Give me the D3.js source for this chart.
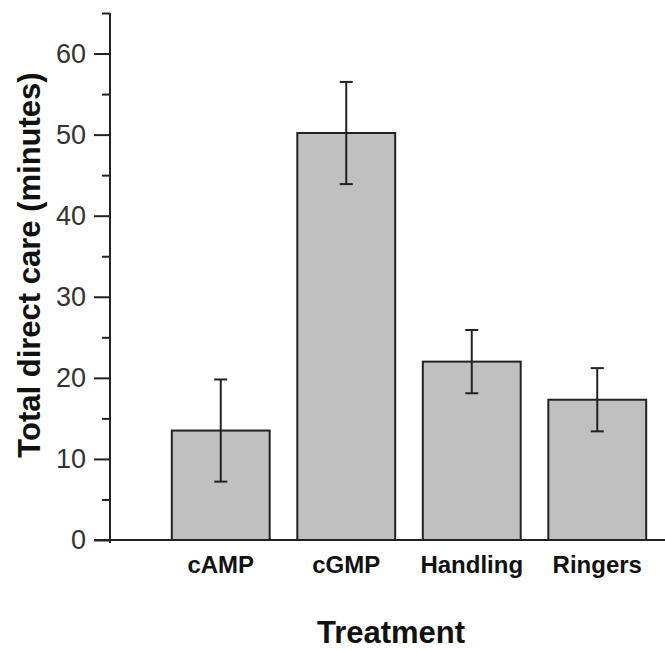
<!DOCTYPE html>
<html>
<head>
<meta charset="utf-8">
<script src="https://cdn.jsdelivr.net/npm/d3@7"></script>
<style>
  html, body { margin: 0; padding: 0; background: #fff; }
  svg { display: block; font-family: "Liberation Sans", Arial, sans-serif; }
  .axis path, .axis line { stroke: #222; stroke-width: 2; }
  .ylab text { font-size: 27px; fill: #333; }
  .xlab text { font-size: 24px; font-weight: bold; fill: #111; }
</style>
</head>
<body>
<svg id="chart"></svg>
<script>
// data
const categories = ['cAMP', 'cGMP', 'Handling', 'Ringers'];
const means = [13.5, 50.2, 22.0, 17.3];
const errors = [6.3, 6.3, 3.9, 3.9];
const majorTicks = [0, 10, 20, 30, 40, 50, 60];
const minorTicks = [5, 15, 25, 35, 45, 55, 65];

const W = 665, H = 650;
const svg = d3.select('#chart').attr('width', W).attr('height', H);

const axisX = 110, baseY = 540;

const y = d3.scaleLinear().domain([0, 65]).range([baseY, 13]);
const x = d3.scaleBand().domain(categories).range([158, 660])
  .paddingInner(0.22).paddingOuter(0.11);

const rows = categories.map((c, i) => ({ cat: c, mean: means[i], err: errors[i] }));

// bars
svg.append('g').selectAll('rect').data(rows).join('rect')
  .attr('x', d => x(d.cat))
  .attr('y', d => y(d.mean))
  .attr('width', x.bandwidth())
  .attr('height', d => y(0) - y(d.mean))
  .attr('fill', '#c0c0c0')
  .attr('stroke', '#222')
  .attr('stroke-width', 2);

// error bars
const eb = svg.append('g').attr('stroke', '#222').attr('stroke-width', 2);
const cap = 6.5;
rows.forEach(d => {
  const cx = x(d.cat) + x.bandwidth() / 2;
  eb.append('line').attr('x1', cx).attr('x2', cx)
    .attr('y1', y(d.mean + d.err)).attr('y2', y(d.mean - d.err));
  [d.mean + d.err, d.mean - d.err].forEach(v => {
    eb.append('line').attr('x1', cx - cap).attr('x2', cx + cap)
      .attr('y1', y(v)).attr('y2', y(v));
  });
});

// y axis: major + minor ticks
const yMajor = svg.append('g').attr('class', 'axis ylab')
  .attr('transform', `translate(${axisX},0)`)
  .call(d3.axisLeft(y).tickValues(majorTicks).tickSize(16).tickPadding(8).tickSizeOuter(0));
yMajor.select('.domain').remove();

svg.append('g').attr('class', 'axis')
  .attr('transform', `translate(${axisX},0)`)
  .call(d3.axisLeft(y).tickValues(minorTicks).tickSize(8).tickFormat(''))
  .select('.domain').remove();

// axis lines
svg.append('line').attr('x1', axisX).attr('x2', axisX)
  .attr('y1', y(65)).attr('y2', baseY + 3)
  .attr('stroke', '#222').attr('stroke-width', 2);
svg.append('line').attr('x1', axisX - 16).attr('x2', W)
  .attr('y1', baseY).attr('y2', baseY)
  .attr('stroke', '#222').attr('stroke-width', 2);

// category labels
const xAx = svg.append('g').attr('class', 'axis xlab')
  .attr('transform', `translate(0,${baseY})`)
  .call(d3.axisBottom(x).tickSize(0).tickPadding(16));
xAx.select('.domain').remove();
xAx.selectAll('text').attr('dy', '0.71em');

// titles
svg.append('text')
  .attr('x', 391).attr('y', 643)
  .attr('text-anchor', 'middle')
  .attr('font-size', 31).attr('font-weight', 'bold').attr('fill', '#111')
  .text('Treatment');

svg.append('text')
  .attr('transform', 'translate(40,265) rotate(-90)')
  .attr('text-anchor', 'middle')
  .attr('font-size', 31).attr('font-weight', 'bold').attr('fill', '#111')
  .text('Total direct care (minutes)');
</script>
</body>
</html>
